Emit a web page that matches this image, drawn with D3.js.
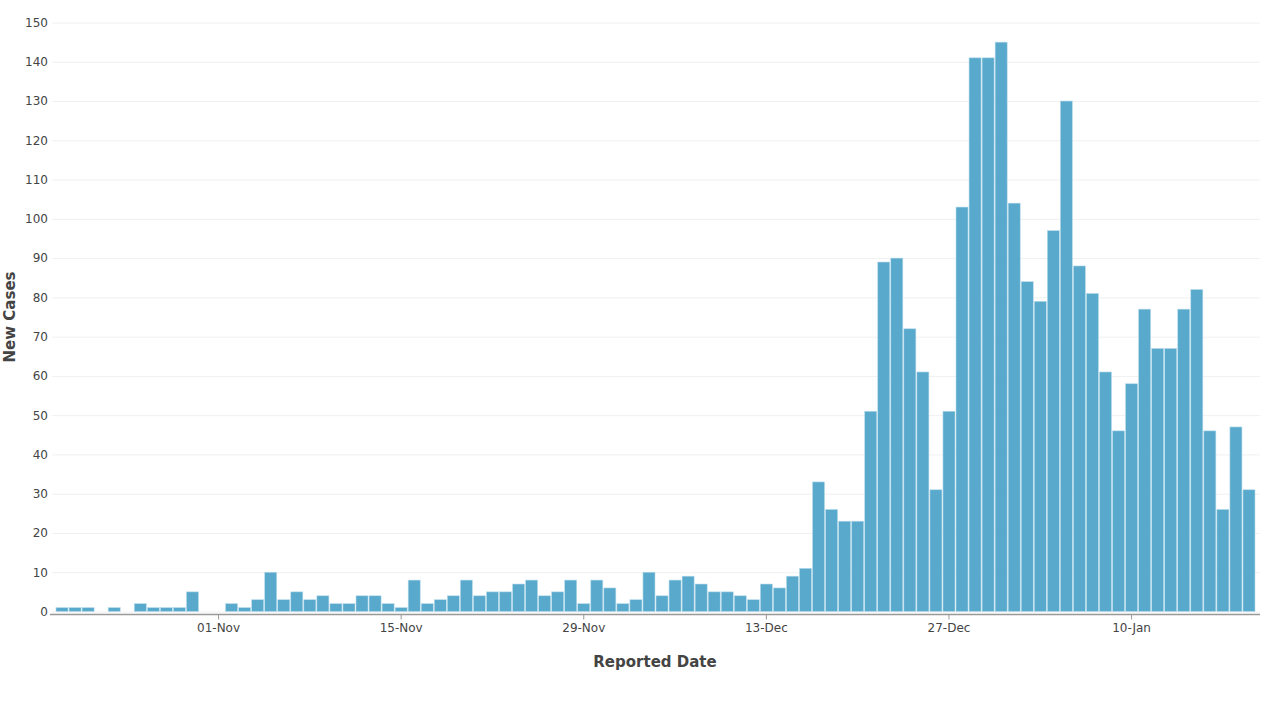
<!DOCTYPE html>
<html>
<head>
<meta charset="utf-8">
<script src="https://cdn.jsdelivr.net/npm/d3@7"></script>
<style>
    body { margin: 0; background: #fff; }
    #chart { width: 1280px; height: 720px; }
    .tick text { font-family: "DejaVu Sans", Verdana, sans-serif; font-size: 12px; fill: #444; }
    .axis-title { font-family: "DejaVu Sans", Verdana, sans-serif; font-size: 15px; font-weight: bold; fill: #444; }
</style>
</head>
<body>
<div id="chart"></div>
<script>

// first reported date and daily new case counts (20-Oct to 19-Jan)
const startDate = "2020-10-20";
const newCases = [
    1, 1, 1, 0, 1, 0, 2, 1, 1, 1, 5, 0,
    0, 2, 1, 3, 10, 3, 5, 3, 4, 2, 2, 4, 4, 2,
    1, 8, 2, 3, 4, 8, 4, 5, 5, 7, 8, 4, 5, 8,
    2, 8, 6, 2, 3, 10, 4, 8, 9, 7, 5, 5, 4, 3,
    7, 6, 9, 11, 33, 26, 23, 23, 51, 89, 90, 72, 61, 31,
    51, 103, 141, 141, 145, 104, 84, 79, 97, 130, 88, 81, 61, 46,
    58, 77, 67, 67, 77, 82, 46, 26, 47, 31
];
const tickDates = ["2020-11-01", "2020-11-15", "2020-11-29", "2020-12-13", "2020-12-27", "2021-01-10"];
const yTicks = [0, 10, 20, 30, 40, 50, 60, 70, 80, 90, 100, 110, 120, 130, 140, 150];

const parseDate = d3.timeParse("%Y-%m-%d");
const fmt = d3.timeFormat("%d-%b");

let data = newCases.map((v, i) => ({
    date: d3.timeDay.offset(parseDate(startDate), i),
    value: v
}));

let svg = d3.select("#chart").append("svg")
    .attr("width", 1280)
    .attr("height", 720);

let plotLeft = 52, plotRight = 1260;

// Scales
let x = d3.scaleBand()
    .domain(data.map(d => fmt(d.date)))
    .range([55.5, 1255.5])
    .padding(0);

let y = d3.scaleLinear()
    .domain([0, 150])
    .range([611.5, 22.5]);

// y axis with gridlines
let yAxis = d3.axisLeft(y)
    .tickValues(yTicks)
    .tickSize(-(plotRight - plotLeft))
    .tickPadding(4);

let yg = svg.append("g")
    .attr("class", "y-axis axis")
    .attr("transform", "translate(" + plotLeft + ",0)")
    .call(yAxis);
yg.select(".domain").remove();
yg.selectAll(".tick line").attr("stroke", "#f0f0f0");

// bars
svg.append("g").selectAll("rect")
    .data(data)
    .enter()
    .append("rect")
    .attr("x", d => x(fmt(d.date)) + 0.5)
    .attr("width", x.bandwidth() - 1)
    .attr("y", d => y(d.value))
    .attr("height", d => y(0) - y(d.value))
    .attr("fill", "#59a9cc")
    .attr("stroke", "#b9dcec")
    .attr("stroke-width", 0.6);

// x axis
let xAxis = d3.axisBottom(x)
    .tickValues(tickDates.map(t => fmt(parseDate(t))))
    .tickSize(5)
    .tickPadding(4);

let xg = svg.append("g")
    .attr("class", "x-axis axis")
    .attr("transform", "translate(0,614.5)")
    .call(xAxis);
xg.select(".domain").remove();
xg.selectAll(".tick line").attr("stroke", "#999");
xg.append("line")
    .attr("x1", 50)
    .attr("x2", plotRight)
    .attr("stroke", "#999")
    .attr("stroke-width", 1.5);

// axis titles
svg.append("text")
    .attr("class", "axis-title")
    .attr("x", 655)
    .attr("y", 667)
    .attr("text-anchor", "middle")
    .text("Reported Date");

svg.append("text")
    .attr("class", "axis-title")
    .attr("transform", "translate(15,317) rotate(-90)")
    .attr("text-anchor", "middle")
    .text("New Cases");

</script>
</body>
</html>
